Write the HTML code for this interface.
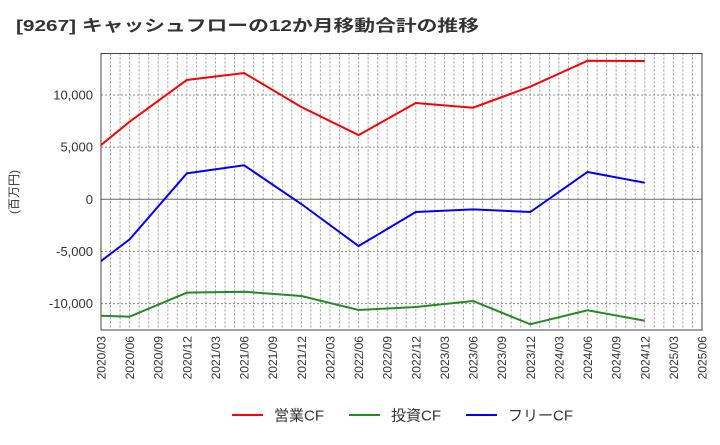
<!DOCTYPE html>
<html><head><meta charset="utf-8"><style>
body{margin:0;background:#fff;}
text{font-family:"Liberation Sans","Noto Sans CJK JP",sans-serif;}
</style></head><body>
<svg id="chart" width="720" height="440" xmlns="http://www.w3.org/2000/svg">
<text x="16" y="31" font-size="16" font-weight="bold" fill="#333" textLength="463" lengthAdjust="spacingAndGlyphs">[9267]  キャッシュフローの12か月移動合計の推移</text>
<g id="grid"></g>
<g id="axes"></g>
<g id="series"></g>
<text transform="translate(18,192) rotate(-90)" font-size="12" fill="#333" text-anchor="middle">(百万円)</text>
<g id="legend"></g>
</svg>
<script>
const xLabels=["2020/03","2020/06","2020/09","2020/12","2021/03","2021/06","2021/09","2021/12","2022/03","2022/06","2022/09","2022/12","2023/03","2023/06","2023/09","2023/12","2024/03","2024/06","2024/09","2024/12","2025/03","2025/06"];
const yTicks=[-10000,-5000,0,5000,10000];
const yTickLabels=["-10,000","-5,000","0","5,000","10,000"];
const pointIdx=[0,1,3,5,7,9,11,13,15,17,19];
const opCF=[5200,7440,11440,12110,8850,6160,9230,8780,10800,13290,13260];
const invCF=[-11160,-11250,-8950,-8860,-9270,-10610,-10330,-9750,-11980,-10640,-11640];
const freeCF=[-5920,-3840,2490,3260,-450,-4480,-1220,-960,-1220,2620,1590];
const seriesNames=["営業CF","投資CF","フリーCF"];
const seriesColors=["#ff0000","#228b22","#0000ff"];

const L=101,R=702,T=53.5,B=330,yMin=-12530,yMax=13980;
const NS="http://www.w3.org/2000/svg";
const xs=i=>L+(R-L)*i/(xLabels.length-1);
const ys=v=>B-(v-yMin)/(yMax-yMin)*(B-T);
function mk(tag,attrs,parent){const e=document.createElementNS(NS,tag);for(const k in attrs)e.setAttribute(k,attrs[k]);parent.appendChild(e);return e;}
const grid=document.getElementById('grid'),axes=document.getElementById('axes'),ser=document.getElementById('series'),leg=document.getElementById('legend');
for(let m=1;m<(xLabels.length-1)*3;m++){const x=L+(R-L)*m/((xLabels.length-1)*3);
 const l=mk('line',{x1:x,x2:x,y1:T,y2:B,stroke:'#999','stroke-dasharray':'2,2','stroke-width':1},grid);
 
 }
yTicks.forEach((v,i)=>{const y=ys(v);
 const l=mk('line',{x1:L,x2:R,y1:y,y2:y,stroke:v===0?'#666':'#888','stroke-dasharray':v===0?'none':'2,2','stroke-width':1},grid);
 
 
 const t=mk('text',{x:L-8,y:y+4.5,'font-size':13,fill:'#333','text-anchor':'end'},axes);t.textContent=yTickLabels[i];
 
 });
xLabels.forEach((s,i)=>{const x=xs(i);
 const t=mk('text',{transform:`translate(${x+4.5},336) rotate(-90)`,'font-size':12,fill:'#333','text-anchor':'end'},axes);t.textContent=s;
 
 });
const fr=mk('rect',{x:L,y:T,width:R-L,height:B-T,fill:'none',stroke:'#444','stroke-width':1},axes);


[opCF,invCF,freeCF].forEach((d,si)=>{
 const pts=d.map((v,j)=>xs(pointIdx[j])+','+ys(v)).join(' ');
 const p=mk('polyline',{points:pts,fill:'none',stroke:seriesColors[si],'stroke-width':2},ser);
 
 
 const lx=[232,349,466][si];
 const ll=mk('line',{x1:lx,x2:lx+31,y1:415,y2:415,stroke:seriesColors[si],'stroke-width':2},leg);
 
 
 const lt=mk('text',{x:lx+42,y:420.5,'font-size':15,fill:'#333'},leg);lt.textContent=seriesNames[si];
 
 
});
</script>
</body></html>
